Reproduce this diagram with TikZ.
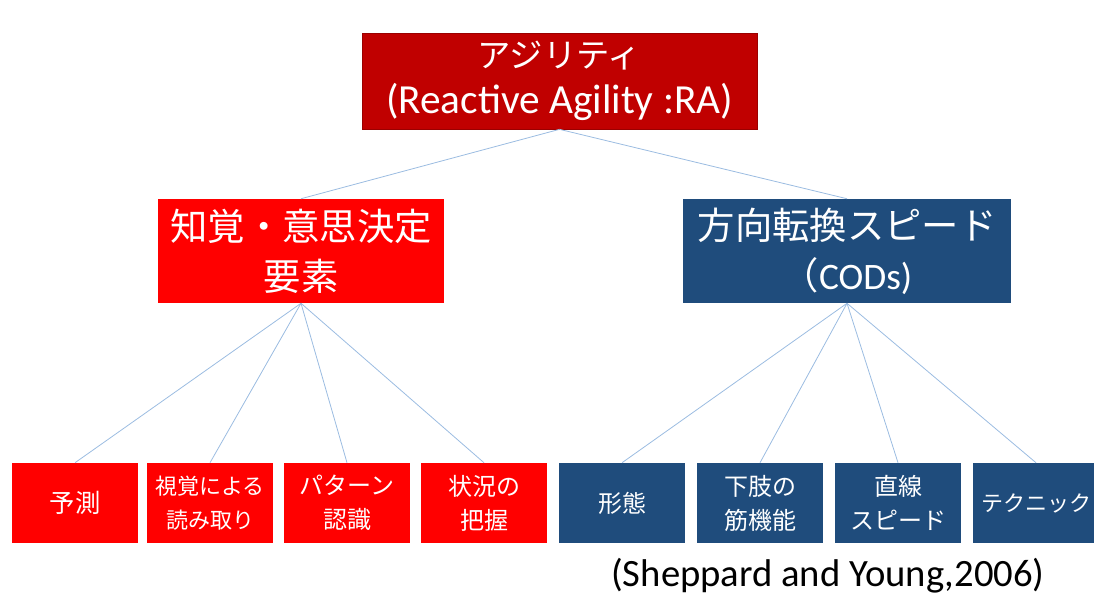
\documentclass[tikz,border=0pt]{standalone}
\usepackage{fontspec}
\setmainfont{Carlito}
\newfontfamily\jp{Noto Sans CJK JP}
\definecolor{darkred}{RGB}{192,0,0}
\definecolor{brightred}{RGB}{255,0,0}
\definecolor{navy}{RGB}{31,76,124}
\definecolor{linkblue}{RGB}{155,188,225}
\tikzset{
  box/.style={inner sep=0pt, align=center, text=white},
  topbox/.style={box, fill=darkred, draw=darkred!80!black, line width=0.5pt,
    minimum width=296.25pt, minimum height=72pt,
    font={\fontsize{31pt}{34.5pt}\selectfont}},
  midbox/.style={box, minimum width=#1, minimum height=78pt,
    font={\jp\fontsize{28pt}{37.5pt}\selectfont}},
  leaf/.style={box, minimum width=94.5pt, minimum height=60pt,
    font={\jp\fontsize{18pt}{25.5pt}\selectfont}},
  redleaf/.style={leaf, fill=brightred},
  blueleaf/.style={leaf, fill=navy},
  link/.style={draw=linkblue, line width=0.6pt},
}
\begin{document}
\begin{tikzpicture}[x=0.75pt, y=-0.75pt]
\useasboundingbox (0,0) rectangle (1094,597);
\node[topbox] (ra) at (559.5,81) {{\jp\fontsize{25pt}{34.5pt}\selectfont アジリティ}\\(Reactive Agility :RA)};
\node[midbox=214.5pt, fill=brightred] (pd) at (301,251) {知覚・意思決定\\要素};
\node[midbox=246pt, fill=navy] (cod) at (847,251) {方向転換スピード\\（{\fontspec{Carlito}CODs)}};
\node[redleaf, font={\jp\fontsize{19pt}{25.5pt}\selectfont}] (l1) at (75,503) {予測};
\node[redleaf, font={\jp\fontsize{16.5pt}{25.5pt}\selectfont}] (l2) at (210,503) {視覚による\\読み取り};
\node[redleaf] (l3) at (347,503) {パターン\\認識};
\node[redleaf] (l4) at (484,503) {状況の\\把握};
\node[blueleaf] (r1) at (622,503) {形態};
\node[blueleaf] (r2) at (760,503) {下肢の\\筋機能};
\node[blueleaf] (r3) at (898,503) {直線\\スピード};
\node[blueleaf, font={\jp\fontsize{16.5pt}{25.5pt}\selectfont}] (r4) at (1036,503) {テクニック};
\node[font={\fontsize{29pt}{32pt}\selectfont}, inner sep=0pt] (src) at (828,576) {(Sheppard and Young,2006)};
\draw[link] (ra.south) -- (pd.north);
\draw[link] (ra.south) -- (cod.north);
\foreach \n in {l1,l2,l3,l4} \draw[link] (pd.south) -- (\n.north);
\foreach \n in {r1,r2,r3,r4} \draw[link] (cod.south) -- (\n.north);
\end{tikzpicture}
\end{document}
